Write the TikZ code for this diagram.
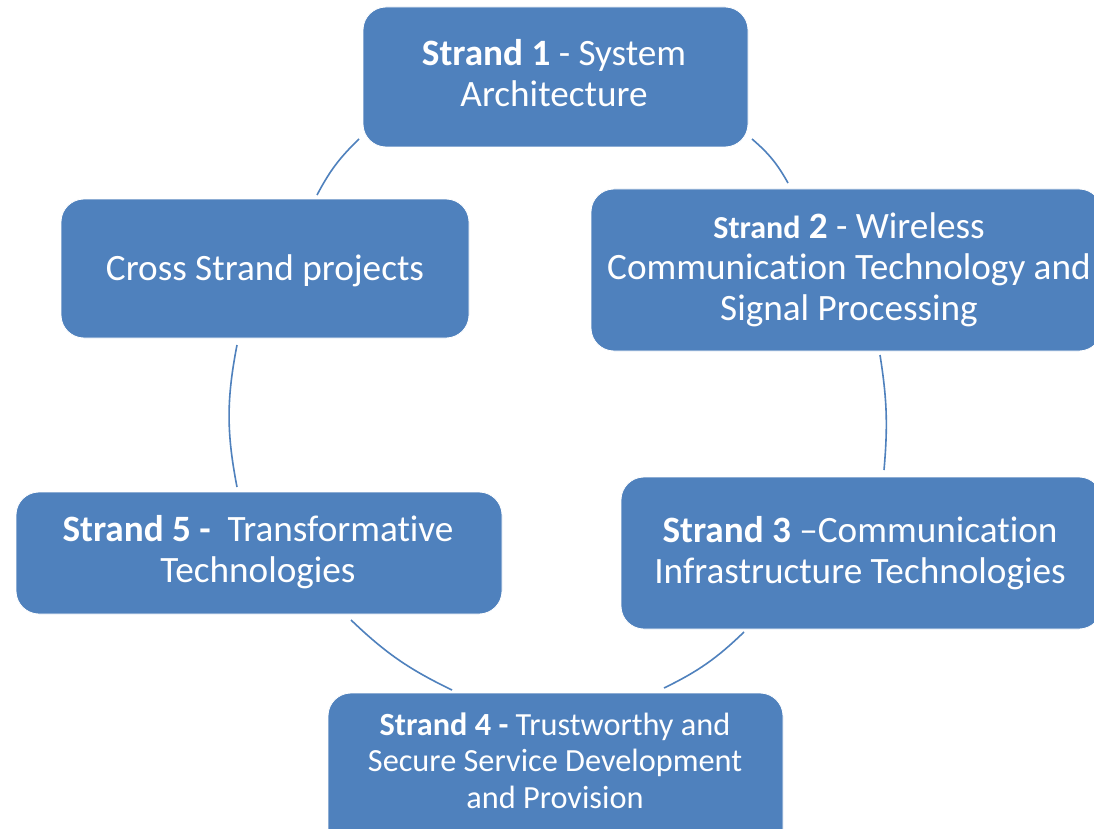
\documentclass[tikz,border=0pt]{standalone}
\usepackage{fontspec}
\setmainfont{Carlito}[Ligatures={NoCommon}]
\definecolor{sblue}{HTML}{4F81BD}
\begin{document}
\begin{tikzpicture}[x=1pt,y=-1pt,
  box/.style={fill=sblue, draw=white, line width=0.8pt, rounded corners=23pt, inner sep=0pt},
  txt/.style={text=white, align=center, inner sep=0pt, font=\fontsize{37.2}{41}\selectfont},
  txts/.style={text=white, align=center, inner sep=0pt, font=\fontsize{32.3}{36.5}\selectfont},
  arcline/.style={draw=sblue, line width=1.6pt}]
\clip (0,0) rectangle (1094,829);
\fill[white] (0,0) rectangle (1094,829);

% boxes
\node[box, minimum width=385pt, minimum height=140pt] (b1) at (555.5,77) {};
\node[box, minimum width=511pt, minimum height=162pt] (b2) at (846.5,270) {};
\node[box, minimum width=481pt, minimum height=152pt] (b3) at (861.5,553) {};
\node[box, minimum width=455pt, minimum height=167pt] (b4) at (555.5,776.5) {};
\node[box, minimum width=486pt, minimum height=122pt] (b5) at (259,553) {};
\node[box, minimum width=408pt, minimum height=139pt] (b6) at (265,268.5) {};

% texts (anchor=base is the baseline of the last line)
\node[txt, anchor=base] (t1) at (554,107) {\textbf{Strand 1} - System\\Architecture};
\node[txt, anchor=base] (t2) at (849,320) {{\fontsize{32}{41}\selectfont\bfseries Strand} \textbf{2} - Wireless\\Communication Technology and\\Signal Processing};
\node[txt, anchor=base] (t3) at (860,583) {\textbf{Strand 3} –Communication\\Infrastructure Technologies};
\node[txts, anchor=base] (t4) at (555,808) {\textbf{Strand 4 -} Trustworthy and\\Secure Service Development\\and Provision};
\node[txt, anchor=base] (t5) at (258,582) {\textbf{Strand 5 -}~ Transformative\\Technologies};
\node[txt, anchor=base] (t6) at (265,280) {Cross Strand projects};

% arcs
\coordinate (a1) at (317,195); \coordinate (a2) at (359,139);
\coordinate (c1) at (752,139); \coordinate (c2) at (788,183);
\coordinate (d1) at (880,355); \coordinate (d2) at (884,470);
\coordinate (e1) at (744,632); \coordinate (e2) at (664,688);
\coordinate (f1) at (452,690); \coordinate (f2) at (351,620);
\coordinate (g1) at (237,487); \coordinate (g2) at (237,345);
\draw[arcline] (a1) to[bend left=9] (a2);
\draw[arcline] (c1) to[bend left=10] (c2);
\draw[arcline] (d1) to[bend left=7] (d2);
\draw[arcline] (e1) to[bend left=9] (e2);
\draw[arcline] (f1) to[bend left=9] (f2);
\draw[arcline] (g1) to[bend left=11] (g2);
\end{tikzpicture}
\end{document}
